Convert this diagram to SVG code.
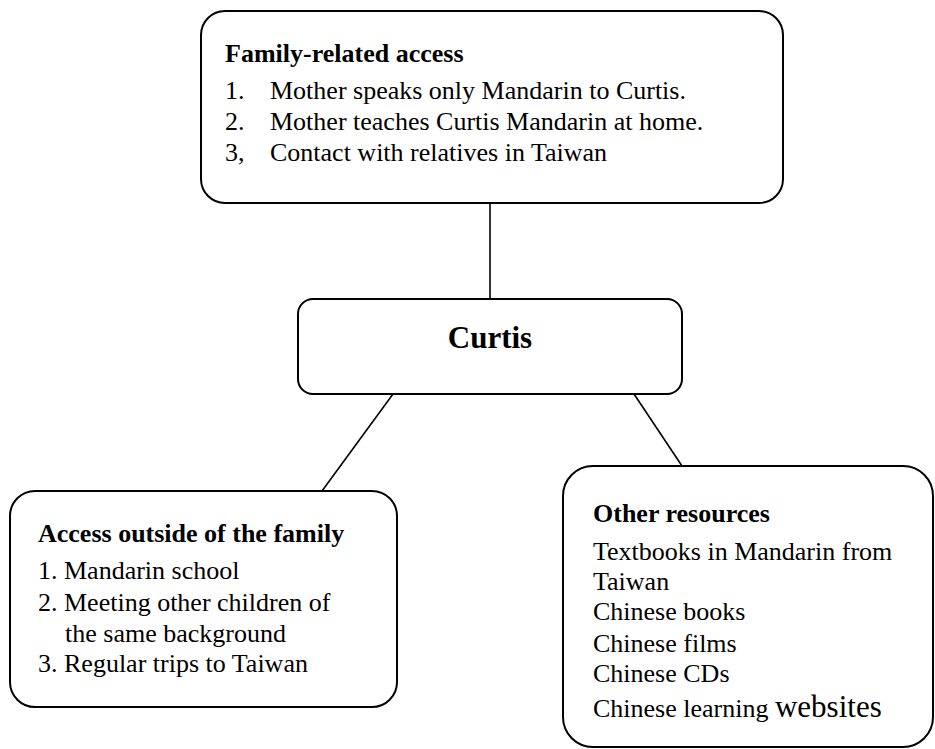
<svg xmlns="http://www.w3.org/2000/svg" width="935" height="749" viewBox="0 0 935 749">
  <style>
    .box { fill: #fff; stroke: #000; stroke-width: 2; }
    .link { stroke: #000; stroke-width: 1.6; fill: none; }
    text { font-family: "Liberation Serif", "Times New Roman", serif; fill: #000; font-size: 26px; }
    .head { font-weight: bold; }
    .big { font-weight: bold; font-size: 31px; }
  </style>
  <rect width="935" height="749" fill="#fff"/>

  <g id="connectors">
    <line class="link" x1="490" y1="203" x2="490" y2="299"/>
    <line class="link" x1="393" y1="394" x2="322" y2="491"/>
    <line class="link" x1="634" y1="394" x2="682" y2="466"/>
  </g>

  <g id="family-access">
    <rect class="box" x="201" y="11" width="582" height="192" rx="24"/>
    <text class="head" x="225" y="62">Family-related access</text>
    <text x="225" y="99">1.</text>
    <text x="270" y="99">Mother speaks only Mandarin to Curtis.</text>
    <text x="225" y="130">2.</text>
    <text x="270" y="130">Mother teaches Curtis Mandarin at home.</text>
    <text x="225" y="161">3,</text>
    <text x="270" y="161">Contact with relatives in Taiwan</text>
  </g>

  <g id="curtis">
    <rect class="box" x="298" y="299" width="384" height="95" rx="15"/>
    <text class="big" x="490" y="348" text-anchor="middle">Curtis</text>
  </g>

  <g id="outside-access">
    <rect class="box" x="10" y="491" width="387" height="216" rx="25"/>
    <text class="head" x="38" y="542">Access outside of the family</text>
    <text x="38" y="579">1. Mandarin school</text>
    <text x="38" y="611">2. Meeting other children of</text>
    <text x="65" y="642">the same background</text>
    <text x="38" y="672">3. Regular trips to Taiwan</text>
  </g>

  <g id="other-resources">
    <rect class="box" x="563" y="466" width="370" height="281" rx="30"/>
    <text class="head" x="593" y="522">Other resources</text>
    <text x="593" y="560">Textbooks in Mandarin from</text>
    <text x="593" y="590">Taiwan</text>
    <text x="593" y="620">Chinese books</text>
    <text x="593" y="652">Chinese films</text>
    <text x="593" y="682">Chinese CDs</text>
    <text x="593" y="717">Chinese learning <tspan font-size="31">websites</tspan></text>
  </g>
</svg>
